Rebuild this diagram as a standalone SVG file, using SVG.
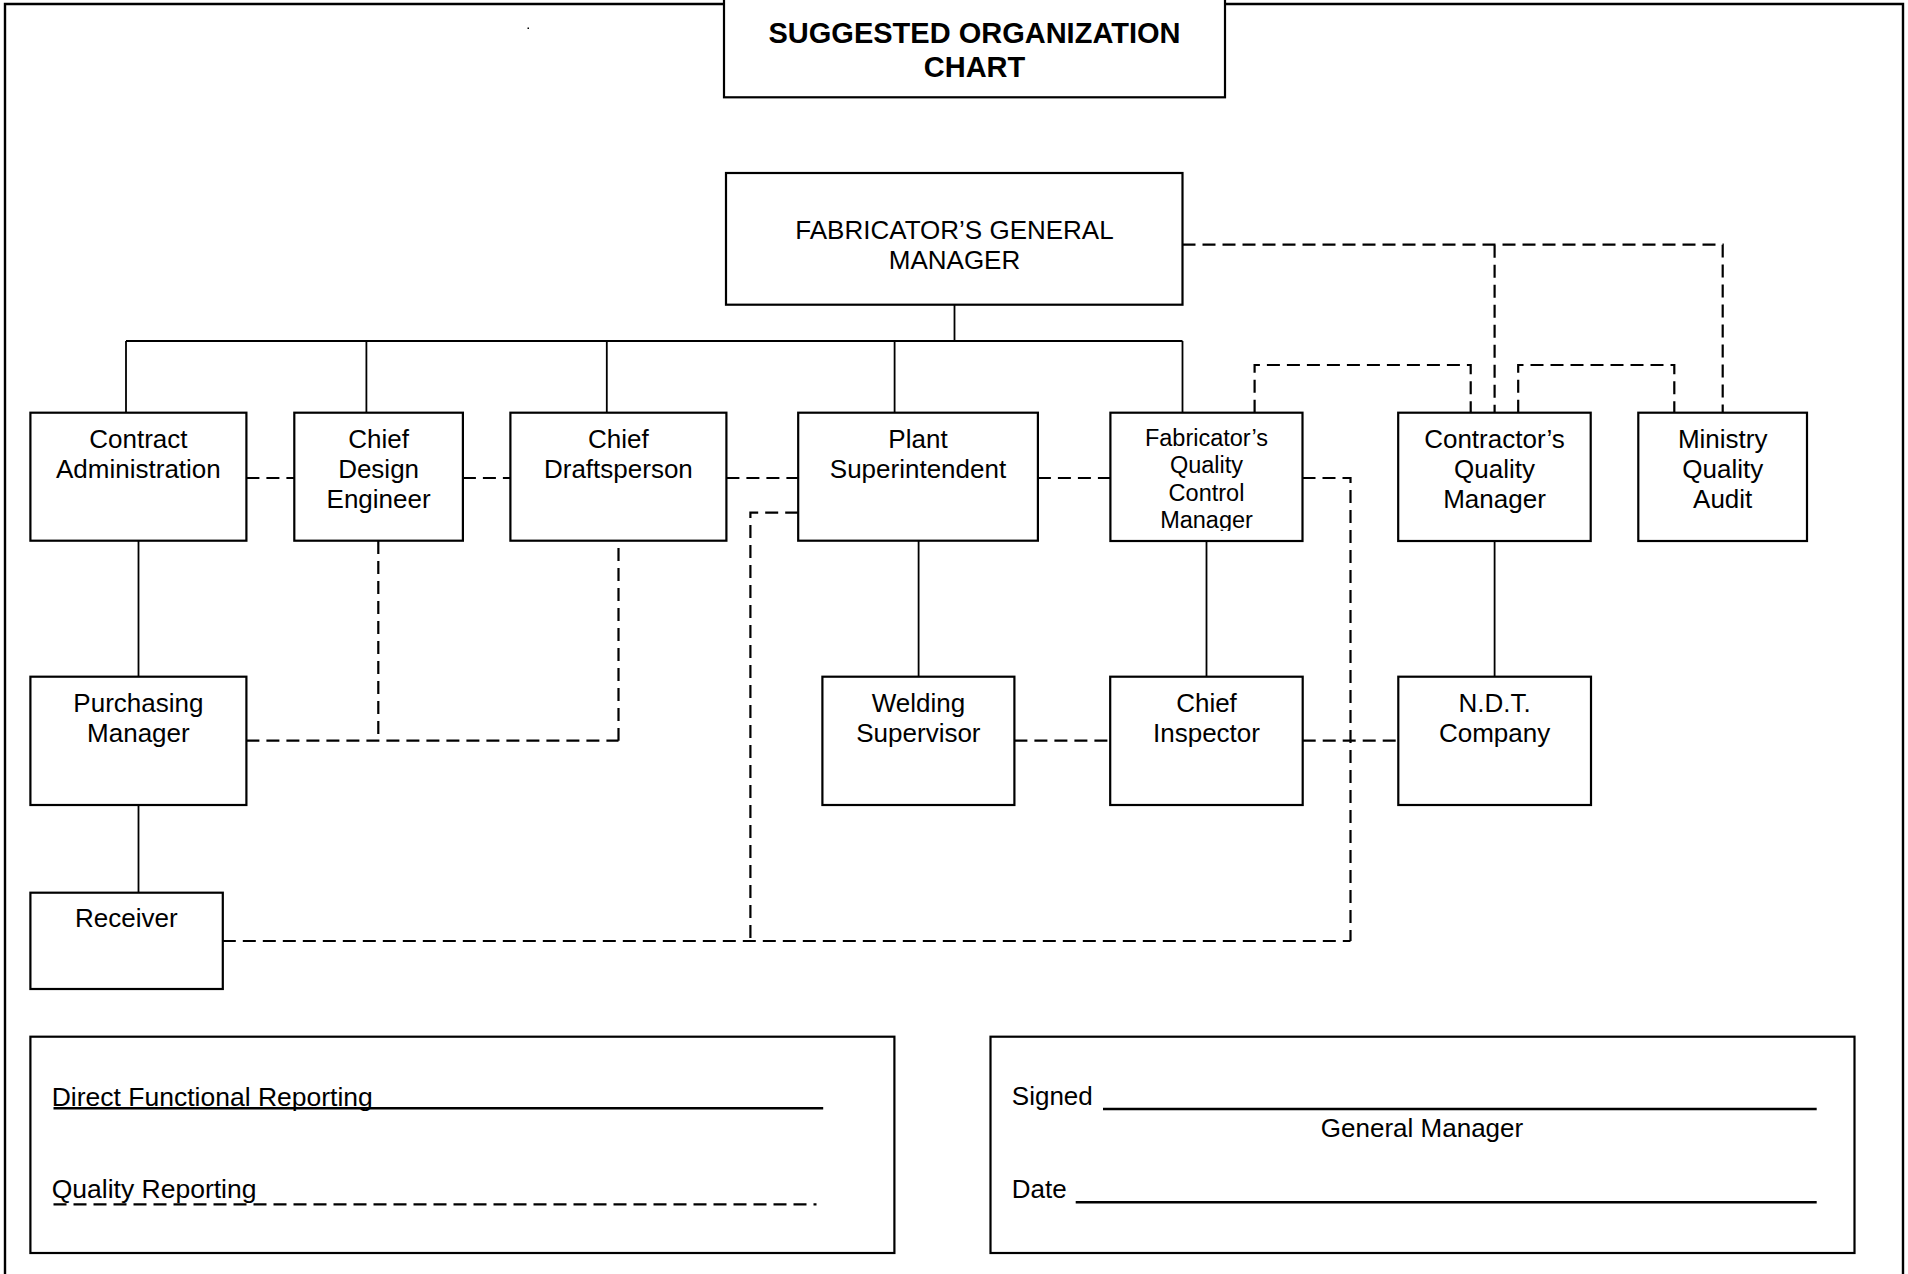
<svg xmlns="http://www.w3.org/2000/svg" width="1908" height="1274" viewBox="0 0 1908 1274">
<style>
  .box { fill: #fff; stroke: #000; stroke-width: 2.2; }
  .t { font-family: "Liberation Sans", Arial, sans-serif; font-size: 26px; fill: #000; text-anchor: middle; }
  .ts { font-family: "Liberation Sans", Arial, sans-serif; font-size: 23.5px; fill: #000; text-anchor: middle; }
  .tl { font-family: "Liberation Sans", Arial, sans-serif; font-size: 26px; fill: #000; }
  .title { font-family: "Liberation Sans", Arial, sans-serif; font-size: 29px; font-weight: bold; fill: #000; text-anchor: middle; }
  .solid { fill: none; stroke: #000; stroke-width: 1.8; }
  .dash { fill: none; stroke: #000; stroke-width: 2.2; stroke-dasharray: 13 7; }
  .frame { fill: none; stroke: #000; stroke-width: 2.4; }
</style>
<defs>
  <clipPath id="fqcmClip"><rect x="1110" y="413" width="193" height="118"/></clipPath>
</defs>
<rect x="0" y="0" width="1908" height="1274" fill="#fff"/>

<g id="frame">
  <path class="frame" d="M5,1274 V4 H724 M1225,4 H1903 V1274"/>
  <rect x="527.5" y="27.5" width="1.5" height="1.5" fill="#000"/>
</g>

<g id="title">
  <rect class="box" x="724" y="-10" width="501" height="107.3"/>
  <text class="title" x="974.5" y="42.7">SUGGESTED ORGANIZATION</text>
  <text class="title" x="974.5" y="76.7">CHART</text>
</g>

<g id="connectors">
  <!-- solid direct reporting -->
  <path class="solid" d="M954.5,304.7 V341 M126,341 H1182.5 M126,341 V412.7 M366.4,341 V412.7 M606.8,341 V412.7 M894.6,341 V412.7 M1182.5,341 V412.7"/>
  <path class="solid" d="M138.5,540.7 V676.7 M138.5,805 V892.7 M918.6,541 V676.7 M1206.5,541 V676.7 M1494.6,541 V676.7"/>
  <!-- dashed quality reporting -->
  <path class="dash" d="M246.4,478 H294.3 M462.9,478 H510.4 M726.4,478 H798.2 M1037.9,478 H1110.4"/>
  <path class="dash" d="M1302.5,478 H1350.5 V941"/>
  <path class="dash" d="M1182.5,244.7 H1722.7 V412.7 M1494.6,244.7 V412.7"/>
  <path class="dash" d="M1254.6,412.7 V365 H1470.7 V412.7"/>
  <path class="dash" d="M1518.2,412.7 V365 H1674.3 V412.7"/>
  <path class="dash" d="M798.2,512.7 H750.4 V941"/>
  <path class="dash" d="M222.8,941 H1350.5"/>
  <path class="dash" d="M378.3,541 V740.7 M618.5,548 V740.7 M246.4,740.7 H618.5"/>
  <path class="dash" d="M1014.4,740.7 H1110 M1302.7,740.7 H1398.3"/>
</g>

<g id="fabricators-general-manager">
  <rect class="box" x="726" y="173" width="456.5" height="131.7"/>
  <text class="t" x="954.5" y="239">FABRICATOR’S GENERAL</text>
  <text class="t" x="954.5" y="269.3">MANAGER</text>
</g>

<g id="contract-administration">
  <rect class="box" x="30.4" y="412.7" width="216" height="128"/>
  <text class="t" x="138.4" y="448.3">Contract</text>
  <text class="t" x="138.4" y="478.3">Administration</text>
</g>

<g id="chief-design-engineer">
  <rect class="box" x="294.3" y="412.7" width="168.6" height="128"/>
  <text class="t" x="378.6" y="448.3">Chief</text>
  <text class="t" x="378.6" y="478.3">Design</text>
  <text class="t" x="378.6" y="508.3">Engineer</text>
</g>

<g id="chief-draftsperson">
  <rect class="box" x="510.4" y="412.7" width="216" height="128"/>
  <text class="t" x="618.4" y="448.3">Chief</text>
  <text class="t" x="618.4" y="478.3">Draftsperson</text>
</g>

<g id="plant-superintendent">
  <rect class="box" x="798.2" y="412.7" width="239.7" height="128"/>
  <text class="t" x="918" y="448.3">Plant</text>
  <text class="t" x="918" y="478.3">Superintendent</text>
</g>

<g id="fabricators-quality-control-manager">
  <rect class="box" x="1110.4" y="412.7" width="192.1" height="128.3"/>
  <g clip-path="url(#fqcmClip)">
    <text class="ts" x="1206.5" y="446">Fabricator’s</text>
    <text class="ts" x="1206.5" y="473.3">Quality</text>
    <text class="ts" x="1206.5" y="500.7">Control</text>
    <text class="ts" x="1206.5" y="528.3">Manager</text>
  </g>
</g>

<g id="contractors-quality-manager">
  <rect class="box" x="1398.2" y="412.7" width="192.5" height="128.3"/>
  <text class="t" x="1494.5" y="448.3">Contractor’s</text>
  <text class="t" x="1494.5" y="478.3">Quality</text>
  <text class="t" x="1494.5" y="508.3">Manager</text>
</g>

<g id="ministry-quality-audit">
  <rect class="box" x="1638.3" y="412.7" width="168.7" height="128.3"/>
  <text class="t" x="1722.7" y="448.3">Ministry</text>
  <text class="t" x="1722.7" y="478.3">Quality</text>
  <text class="t" x="1722.7" y="508.3">Audit</text>
</g>

<g id="purchasing-manager">
  <rect class="box" x="30.4" y="676.7" width="216" height="128.3"/>
  <text class="t" x="138.4" y="711.7">Purchasing</text>
  <text class="t" x="138.4" y="741.7">Manager</text>
</g>

<g id="welding-supervisor">
  <rect class="box" x="822.4" y="676.7" width="192" height="128.3"/>
  <text class="t" x="918.4" y="711.7">Welding</text>
  <text class="t" x="918.4" y="741.7">Supervisor</text>
</g>

<g id="chief-inspector">
  <rect class="box" x="1110.2" y="676.7" width="192.5" height="128.3"/>
  <text class="t" x="1206.5" y="711.7">Chief</text>
  <text class="t" x="1206.5" y="741.7">Inspector</text>
</g>

<g id="ndt-company">
  <rect class="box" x="1398.3" y="676.7" width="192.7" height="128.3"/>
  <text class="t" x="1494.6" y="711.7">N.D.T.</text>
  <text class="t" x="1494.6" y="741.7">Company</text>
</g>

<g id="receiver">
  <rect class="box" x="30.4" y="892.7" width="192.4" height="96.3"/>
  <text class="t" x="126.4" y="927.3">Receiver</text>
</g>

<g id="legend">
  <rect class="box" x="30.4" y="1036.7" width="864" height="216.3"/>
  <text class="tl" x="51.7" y="1105.7" style="font-size:26.5px">Direct Functional Reporting</text>
  <path d="M53.5,1108.3 H823.2" fill="none" stroke="#000" stroke-width="2.4"/>
  <text class="tl" x="51.7" y="1198.3" style="font-size:26.5px">Quality Reporting</text>
  <path class="dash" d="M53.5,1204.3 H816.5"/>
</g>

<g id="signature">
  <rect class="box" x="990.5" y="1036.7" width="864" height="216.3"/>
  <text class="tl" x="1011.8" y="1105">Signed</text>
  <path d="M1103,1109 H1816.7" fill="none" stroke="#000" stroke-width="2.4"/>
  <text class="t" x="1422" y="1136.7">General Manager</text>
  <text class="tl" x="1011.8" y="1198.3">Date</text>
  <path d="M1075.7,1202.3 H1816.7" fill="none" stroke="#000" stroke-width="2.4"/>
</g>
</svg>
